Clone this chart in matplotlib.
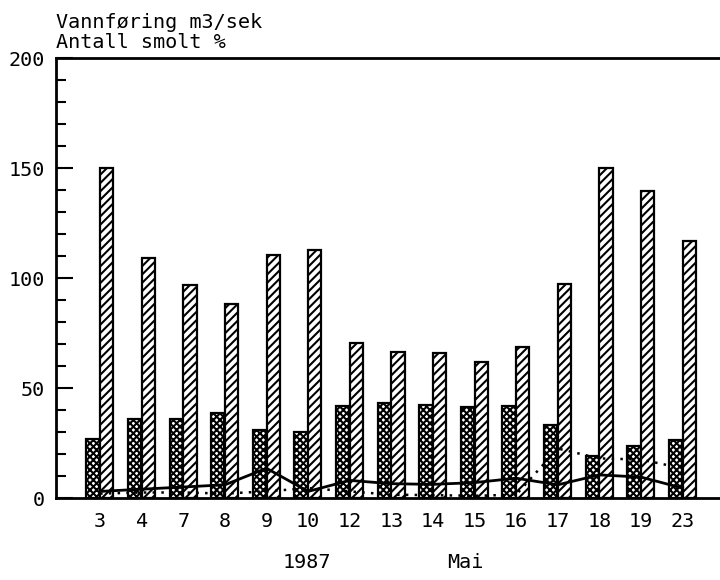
"""
Vannføring og antall smolt, mai 1987.
"""

import matplotlib
matplotlib.use('Agg')
import matplotlib.pyplot as plt
from matplotlib.ticker import MultipleLocator
import numpy as np

DAYS = ['3', '4', '7', '8', '9', '10', '12', '13', '14', '15', '16', '17',
        '18', '19', '23']
# checkered bars
DARK_BARS = [27, 36, 36, 38.5, 31, 30, 42, 43, 42.5, 41.5, 42, 33, 19, 23.5,
             26.5]
# diagonal hatched bars
HATCH_BARS = [150, 109, 97, 88, 110.5, 112.5, 70.5, 66.5, 66, 62, 68.5, 97.5,
              150, 139.5, 117]
SOLID_LINE = [3, 4, 5, 6, 13.5, 3, 8, 6.5, 6.2, 7, 9, 6, 10.5, 9.5, 4.5]
DOTTED_LINE = [2, 2.5, 2.5, 2, 3, 4.5, 3, 1.5, 1.3, 1, 1.5, 22.5, 18, 17.5,
               13.5]

FONT = 'DejaVu Sans Mono'
FS = 14.5


def main():
    plt.rcParams['font.family'] = FONT
    plt.rcParams['hatch.linewidth'] = 1.5

    fig = plt.figure(figsize=(7.2, 5.8), dpi=100)
    ax = fig.add_axes([56 / 720, 82 / 580, 664 / 720, 440 / 580])

    x = np.arange(len(DAYS))
    w = 0.32
    ax.bar(x - 0.17, DARK_BARS, width=w, facecolor='white', edgecolor='black',
           hatch='xxxxx', linewidth=1.6, zorder=2)
    ax.bar(x + 0.16, HATCH_BARS, width=w, facecolor='white', edgecolor='black',
           hatch='////', linewidth=1.6, zorder=2)
    ax.plot(x, SOLID_LINE, color='black', lw=2, zorder=3)
    ax.plot(x, DOTTED_LINE, color='black', lw=1.8, ls=(0, (1, 2.5)), zorder=3)

    ax.set_xlim(-1.06, 14.9)
    ax.set_ylim(0, 200)
    ax.set_xticks(x)
    ax.set_xticklabels(DAYS, fontsize=FS)
    ax.tick_params(axis='x', length=0, pad=10)
    ax.yaxis.set_major_locator(MultipleLocator(50))
    ax.yaxis.set_minor_locator(MultipleLocator(10))
    ax.tick_params(axis='y', which='major', direction='in', length=12,
                   width=1.5, pad=8, labelsize=FS)
    ax.tick_params(axis='y', which='minor', direction='in', length=7,
                   width=1.5)
    ax.spines['right'].set_visible(False)
    for side in ('left', 'top', 'bottom'):
        ax.spines[side].set_linewidth(2)

    fig.text(56 / 720, 1 - 28 / 580, 'Vannføring m3/sek', fontsize=FS,
             ha='left', va='baseline')
    fig.text(56 / 720, 1 - 48 / 580, 'Antall smolt %', fontsize=FS,
             ha='left', va='baseline')
    fig.text(307 / 720, 1 - 563 / 580, '1987', fontsize=FS,
             ha='center', va='center')
    fig.text(465 / 720, 1 - 563 / 580, 'Mai', fontsize=FS,
             ha='center', va='center')

    fig.savefig('out.png', dpi=100)
    plt.close()


if __name__ == '__main__':
    main()
